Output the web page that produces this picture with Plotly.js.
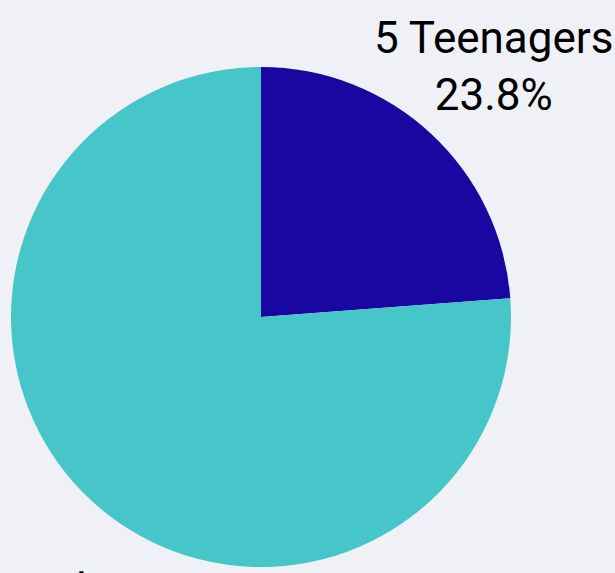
<!DOCTYPE html>
<html>
<head>
<meta charset="utf-8">
<script src="https://cdn.plot.ly/plotly-3.0.1.min.js"></script>
<style>html,body{margin:0;padding:0;background:#f0f1f7;}#chart{width:615px;height:573px;}</style>
</head>
<body>
<div id="chart"></div>
<script>
const labels = ["5 Teenagers", "16 Youth"];
const values = [5, 16];
const colors = ["#1a06a1", "#46c6c9"];
// outside label placement: radial distance (in pie radii) and pixel nudges
const labelDist = [1.368, 1.58];
const labelShiftX = [0, 21];
const labelShiftY = [0, -12];

const total = values.reduce((a, b) => a + b, 0);
let cum = 0;
const annotations = values.map((v, i) => {
  const frac = v / total;
  const mid = (cum + frac / 2) * 2 * Math.PI; // clockwise from 12 o'clock
  cum += frac;
  const k = labelDist[i];
  return {
    xref: "paper", yref: "paper",
    x: 0.5 + 0.5 * k * Math.sin(mid),
    y: 0.5 + 0.5 * k * Math.cos(mid),
    xshift: labelShiftX[i],
    yshift: labelShiftY[i],
    xanchor: "center", yanchor: "middle",
    showarrow: false,
    align: "center",
    text: labels[i] + "<br>" + (frac * 100).toFixed(1) + "%",
    font: {family: "Roboto", size: 44, color: "#000000"}
  };
});

Plotly.newPlot("chart", [{
  type: "pie",
  labels: labels,
  values: values,
  marker: {colors: colors},
  textinfo: "none",
  sort: false,
  direction: "clockwise",
  showlegend: false,
  hoverinfo: "label+value+percent"
}], {
  width: 615,
  height: 573,
  paper_bgcolor: "#f0f1f7",
  plot_bgcolor: "#f0f1f7",
  margin: {l: 11, r: 104, t: 67, b: 6, pad: 0},
  showlegend: false,
  font: {family: "Roboto"},
  annotations: annotations
}, {displayModeBar: false, staticPlot: true});
</script>
</body>
</html>
